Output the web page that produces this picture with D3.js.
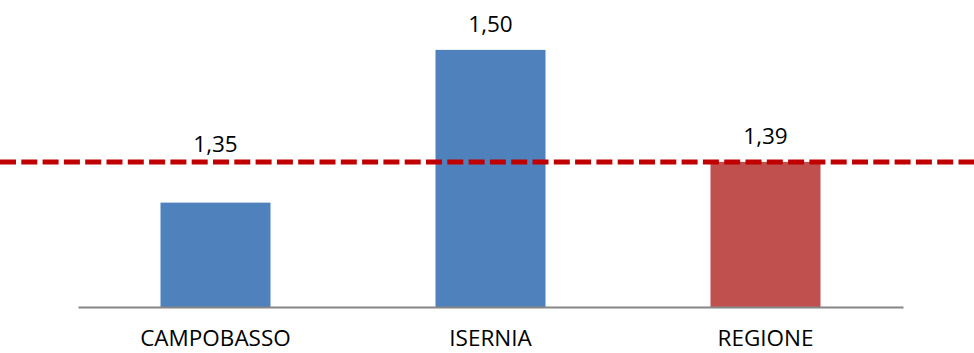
<!DOCTYPE html>
<html>
<head>
<meta charset="utf-8">
<script src="https://cdn.jsdelivr.net/npm/d3@7"></script>
<style>
  html, body { margin: 0; padding: 0; background: #fff; }
  svg { display: block; }
  text { font-family: "Open Sans", Lato, "Liberation Sans", sans-serif; fill: #000; }
</style>
</head>
<body>
<svg id="chart" width="974" height="353"></svg>
<script>
const categories = ["CAMPOBASSO", "ISERNIA", "REGIONE"];
const values = [1.35, 1.50, 1.39];
const valueLabels = ["1,35", "1,50", "1,39"];
const barColors = ["#4f81bd", "#4f81bd", "#c0504d"];
const referenceValue = 1.39;

const W = 974, H = 353;
const svg = d3.select("#chart");

const x = d3.scaleBand()
  .domain(categories)
  .range([78, 903])
  .paddingInner(0.6)
  .paddingOuter(0.3);

const y = d3.scaleLinear()
  .domain([1.2475, 1.549])
  .range([307, 0]);

// bars
svg.selectAll("rect.bar")
  .data(categories)
  .enter().append("rect")
  .attr("class", "bar")
  .attr("x", d => x(d))
  .attr("width", x.bandwidth())
  .attr("y", (d, i) => y(values[i]))
  .attr("height", (d, i) => y.range()[0] - y(values[i]))
  .attr("fill", (d, i) => barColors[i]);

// axis
const xAxis = d3.axisBottom(x).tickSize(0).tickPadding(0);
const gx = svg.append("g")
  .attr("transform", `translate(0,${y.range()[0]})`)
  .call(xAxis);
gx.select(".domain").attr("stroke", "#868686").attr("stroke-width", 2);
gx.selectAll(".tick text")
  .style("font-family", "'Open Sans', Lato, 'Liberation Sans', sans-serif")
  .attr("font-size", 22.5)
  .attr("fill", "#000")
  .attr("dy", null)
  .attr("y", 39);

// reference dashed line
const refY = y(referenceValue);
svg.append("line")
  .attr("x1", 0).attr("x2", W)
  .attr("y1", refY).attr("y2", refY)
  .attr("stroke", "#c00000")
  .attr("stroke-width", 5)
  .attr("stroke-dasharray", "16,5.3");

// value labels
svg.selectAll("text.val")
  .data(categories)
  .enter().append("text")
  .attr("class", "val")
  .attr("x", d => x(d) + x.bandwidth() / 2)
  .attr("y", (d, i) => {
    const top = y(values[i]);
    return top > refY + 5 ? refY - 10 : top - 18;
  })
  .attr("text-anchor", "middle")
  .attr("font-size", 22.5)
  .text((d, i) => valueLabels[i]);
</script>
</body>
</html>
